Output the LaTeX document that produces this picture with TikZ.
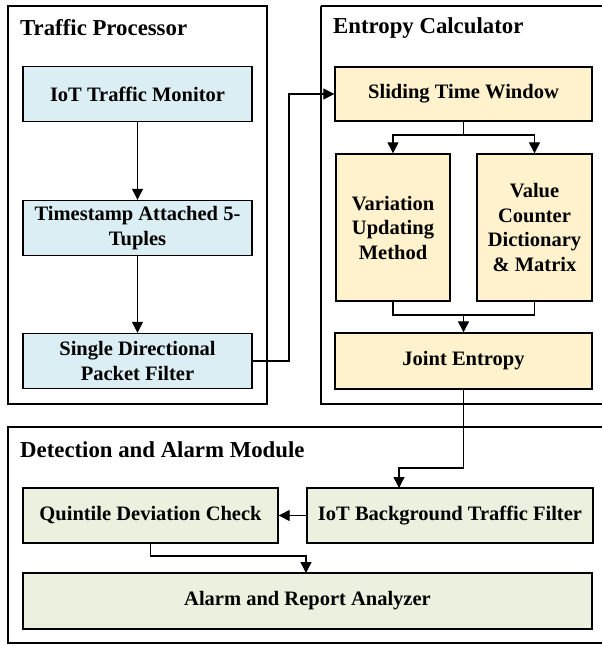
\documentclass[tikz,border=0pt]{standalone}
\usepackage{fontspec}
\setmainfont{Liberation Serif}
\usetikzlibrary{arrows.meta}
\definecolor{bluefill}{RGB}{218,238,243}
\definecolor{yelfill}{RGB}{255,242,204}
\definecolor{grnfill}{RGB}{235,241,222}
\tikzset{
  frame/.style={draw=black, line width=1.4pt},
  title/.style={anchor=west, inner sep=0pt, font=\fontsize{22.8}{27}\selectfont\bfseries},
  box/.style={draw=black, line width=1.4pt, align=center, inner sep=2pt,
    font=\fontsize{20.5}{24.5}\selectfont\bfseries},
  bbox/.style={box, fill=bluefill, minimum width=229pt, minimum height=55pt},
  ybox/.style={box, fill=yelfill},
  gbox/.style={box, fill=grnfill, minimum height=55pt},
  conn/.style={draw=black, line width=1.3pt},
  arr/.style={conn, -{Triangle[length=11pt,width=11pt]}}
}
\begin{document}
\begin{tikzpicture}[x=1pt,y=-1pt]
\useasboundingbox (0,0) rectangle (602,646);
\fill[white] (0,0) rectangle (602,646);
% frames
\draw[frame] (8,6) rectangle (267,404);
\draw[frame] (321,6) -- (612,6) (321,6) -- (321,404) -- (612,404);
\draw[frame] (612,427) -- (8,427) -- (8,643) -- (612,643);
% titles
\node[title] (t1) at (20,28) {Traffic Processor};
\node[title] (t2) at (333,28) {Entropy Calculator};
\node[title] (t3) at (20,450) {Detection and Alarm Module};
% traffic processor
\node[bbox] (mon) at (137.5,94) {IoT Traffic Monitor};
\node[bbox] (ts) at (137.5,228) {Timestamp Attached 5-\\Tuples};
\node[bbox] (sd) at (137.5,361) {Single Directional\\Packet Filter};
% entropy calculator
\node[ybox, minimum width=257pt, minimum height=54pt] (stw) at (463.5,94) {Sliding Time Window};
\node[ybox, minimum width=114pt, minimum height=147pt] (var) at (393,227.5) {Variation\\Updating\\Method};
\node[ybox, minimum width=115pt, minimum height=147pt] (val) at (534.5,227.5) {Value\\Counter\\Dictionary\\\& Matrix};
\node[ybox, minimum width=257pt, minimum height=56pt] (je) at (463.5,361) {Joint Entropy};
% detection
\node[gbox, minimum width=255pt] (qdc) at (150.5,515.5) {Quintile Deviation Check};
\node[gbox, minimum width=286pt] (ibf) at (450,515.5) {IoT Background Traffic Filter};
\node[gbox, minimum width=569pt, minimum height=56pt] (ara) at (307.5,601) {Alarm and Report Analyzer};
% helper coordinates
\coordinate (ibfin) at (399,488);
\coordinate (arain) at (306,573);
% connectors
\draw[arr] (mon) -- (ts);
\draw[arr] (ts) -- (sd);
\draw[arr] (sd.east) -- (289,361) -- (289,94) -- (stw.west);
\draw[conn] (stw.south) -- (463.5,135);
\draw[arr] (463.5,135) -| (var.north);
\draw[arr] (463.5,135) -| (val.north);
\draw[conn] (var.south) |- (463.5,315);
\draw[conn] (val.south) |- (463.5,315);
\draw[arr] (463.5,315) -- (je.north);
\draw[arr] (je.south) -- (463.5,468) -| (ibfin);
\draw[arr] (ibf.west) -- (qdc.east);
\draw[arr] (qdc.south) |- (306,556) -- (arain);
\end{tikzpicture}
\end{document}
